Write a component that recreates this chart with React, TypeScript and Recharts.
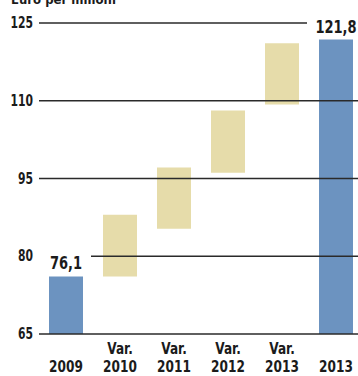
import React from 'react';
import { BarChart, Bar, XAxis, YAxis, ReferenceLine, ReferenceDot, Cell } from 'recharts';

const categories = ['2009', 'Var.\n2010', 'Var.\n2011', 'Var.\n2012', 'Var.\n2013', '2013'];
const totals: (number | null)[] = [76.1, null, null, null, null, 121.8];
const varStart: (number | null)[] = [null, 76.1, 85.3, 96.1, 109.3, null];
const varEnd: (number | null)[] = [null, 88.0, 97.1, 108.1, 121.1, null];
const yTicks = [65, 80, 95, 110, 125];
const labelCategories = ['2009', '2013'];
const labelValues = [76.1, 121.8];
const labelTexts = ['76,1', '121,8'];
const title = 'Euro per milioni';

const BLUE = '#6c93c0';
const TAN = '#e6dcaa';
const INK = '#1b1b1b';
const FONT = '"DejaVu Sans Condensed", "Liberation Sans Narrow", sans-serif';

const data = categories.map((c, i) => ({
  name: c,
  value: totals[i] != null ? totals[i] : [varStart[i], varEnd[i]],
  kind: totals[i] != null ? 'total' : 'var',
}));

const XTick = (props: any) => {
  const { x, y, payload } = props;
  const lines = String(payload.value).split('\n');
  const n = lines.length;
  return (
    <g>
      {lines.map((ln, i) => (
        <text
          key={i}
          transform={`translate(${x},${y + 38 - (n - 1 - i) * 18}) scale(1,1.15)`}
          textAnchor="middle"
          fontFamily={FONT}
          fontWeight="bold"
          fontSize={13.5}
          fill={INK}
        >
          {ln}
        </text>
      ))}
    </g>
  );
};

const YTick = (props: any) => {
  const { x, y, payload } = props;
  return (
    <text
      transform={`translate(${x},${y + 5}) scale(1,1.3)`}
      textAnchor="end"
      fontFamily={FONT}
      fontWeight="bold"
      fontSize={12}
      fill={INK}
    >
      {payload.value}
    </text>
  );
};

const makeLabelShape = (text: string) => (props: any) => {
  const { cx, cy } = props;
  return (
    <g>
      <rect x={cx - 29} y={cy - 25} width={54} height={20} fill="#ffffff" />
      <text
        transform={`translate(${cx},${cy - 7}) scale(1,1.2)`}
        textAnchor="middle"
        fontFamily={FONT}
        fontWeight="bold"
        fontSize={14.5}
        fill={INK}
      >
        {text}
      </text>
    </g>
  );
};

export default function App() {
  return (
    <div style={{ position: 'absolute', left: 0, top: 0, width: 358, height: 376, overflow: 'hidden', background: '#fff' }}>
      <svg width={358} height={10} style={{ position: 'absolute', left: 0, top: 0 }}>
        <text x={11} y={4} fontFamily={FONT} fontWeight="bold" fontSize={13} fill={INK}>
          {title}
        </text>
      </svg>
      <BarChart
        width={363}
        height={376}
        data={data}
        margin={{ top: 23, right: 0, bottom: 0, left: 0 }}
        barSize={34}
      >
        <XAxis
          dataKey="name"
          axisLine={false}
          tickLine={false}
          tickSize={0}
          tickMargin={0}
          height={42}
          interval={0}
          tick={<XTick />}
        />
        <YAxis
          width={39}
          domain={[65, 125]}
          ticks={yTicks}
          allowDataOverflow
          axisLine={false}
          tickLine={false}
          tickSize={0}
          tickMargin={6}
          tick={<YTick />}
        />
        <Bar dataKey="value" isAnimationActive={false}>
          {data.map((d, i) => (
            <Cell key={i} fill={d.kind === 'total' ? BLUE : TAN} />
          ))}
        </Bar>
        {yTicks.map((t) => (
          <ReferenceLine key={t} y={t} stroke="#2a2a2a" strokeWidth={1.3} zIndex={350} />
        ))}
        {labelCategories.map((c, i) => (
          <ReferenceDot
            key={c}
            x={c}
            y={labelValues[i]}
            r={0}
            ifOverflow="visible"
            zIndex={2500}
            shape={makeLabelShape(labelTexts[i])}
          />
        ))}
      </BarChart>
    </div>
  );
}
